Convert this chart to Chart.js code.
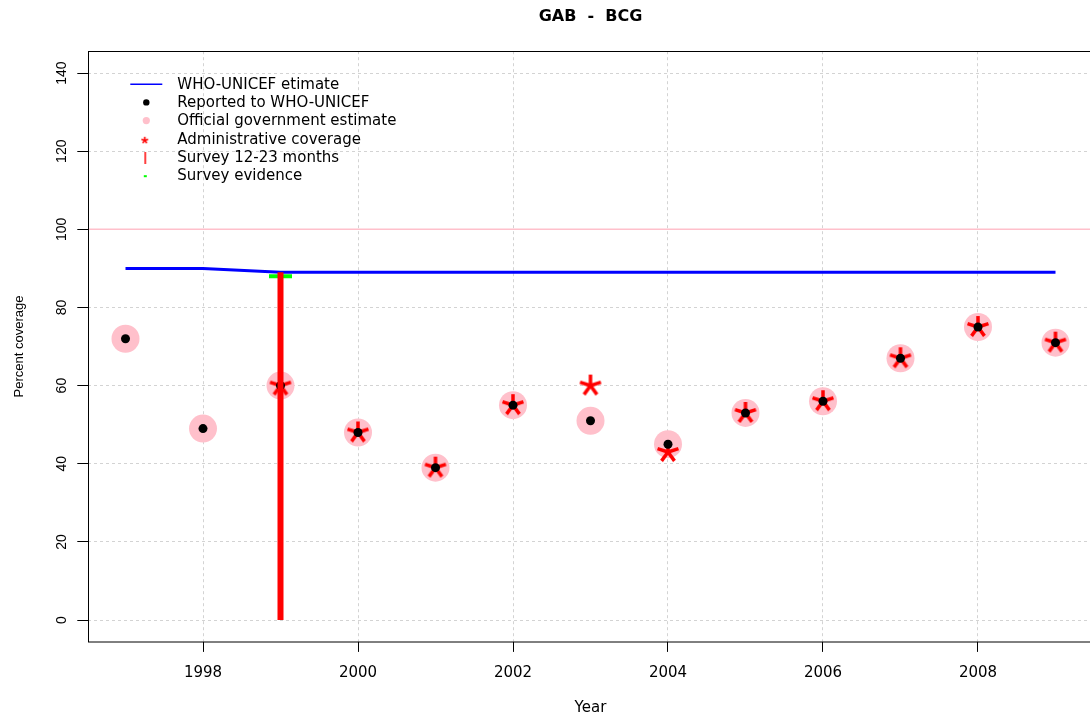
<!DOCTYPE html>
<html>
<head>
<meta charset="utf-8">
<title>GAB - BCG</title>
<script src="https://cdn.jsdelivr.net/npm/chart.js@4/dist/chart.umd.min.js"></script>
<style>
  html, body { margin: 0; padding: 0; overflow: hidden; background: #fff; }
  #chart-bcg { display: block; }
</style>
</head>
<body>
<canvas id="chart-bcg" width="1100" height="717"></canvas>
<script>
const years = [1997, 1998, 1999, 2000, 2001, 2002, 2003, 2004, 2005, 2006, 2007, 2008, 2009]
const whoUnicef = [90, 90, 89, 89, 89, 89, 89, 89, 89, 89, 89, 89, 89]
const reported = [72, 49, 60, 48, 39, 55, 51, 45, 53, 56, 67, 75, 71]
const official = [72, 49, 60, 48, 39, 55, 51, 45, 53, 56, 67, 75, 71]
const admin = [null, null, 60, 48, 39, 55, 60, 43, 53, 56, 67, 75, 71]
const surveyYears = [1999]
const survey1223 = [89]
const surveyEvidence = [88]
const targetLevel = 100
const xTicks = [1998, 2000, 2002, 2004, 2006, 2008]
const yTicks = [0, 20, 40, 60, 80, 100, 120, 140]
const legendLabels = ['WHO-UNICEF etimate', 'Reported to WHO-UNICEF', 'Official government estimate',
    'Administrative coverage', 'Survey 12-23 months', 'Survey evidence']

// R style axis range: 4% extra on each side
const xSpan = years[years.length - 1] - years[0]
const xMin = years[0] - 0.04 * xSpan
const xMax = years[years.length - 1] + 0.04 * xSpan
const ySpan = yTicks[yTicks.length - 1] - yTicks[0]
const yMin = yTicks[0] - 0.04 * ySpan
const yMax = yTicks[yTicks.length - 1] + 0.04 * ySpan

const pairs = vals => years.map((a, i) => ({ x: a, y: vals[i] }))

// little 5 arm asterisk, like pch="*"
function makeAsterisk(size, width) {
    const c = document.createElement('canvas')
    c.width = size
    c.height = size
    const g = c.getContext('2d')
    g.strokeStyle = '#ff0000'
    g.lineWidth = width
    g.translate(size / 2, size / 2)
    const r = size / 2 - 1
    for (let k = 0; k < 5; k++) {
        const ang = -Math.PI / 2 + k * 2 * Math.PI / 5
        g.beginPath()
        g.moveTo(0, 0)
        g.lineTo(r * Math.cos(ang), r * Math.sin(ang))
        g.stroke()
    }
    return c
}
const asterisk = makeAsterisk(24, 3.5)
const asteriskSmall = makeAsterisk(9, 1.6)

const boxPlugin = {
    id: 'box',
    afterDraw(chart) {
        const { ctx, chartArea } = chart
        ctx.save()
        ctx.strokeStyle = '#000'
        ctx.lineWidth = 1
        const l = Math.round(chartArea.left) + 0.5
        const t = Math.round(chartArea.top) + 0.5
        ctx.strokeRect(l, t, Math.round(chartArea.right) - l, Math.round(chartArea.bottom) - t)
        ctx.restore()
    }
}

const legendPlugin = {
    id: 'legendInside',
    afterDraw(chart) {
        const { ctx, chartArea } = chart
        const sx = chartArea.left + 57
        const tx = chartArea.left + 89
        const y0 = chartArea.top + 34
        const dy = 18.2
        ctx.save()
        // symbols
        ctx.strokeStyle = '#0000ff'
        ctx.lineWidth = 1.5
        ctx.beginPath()
        ctx.moveTo(sx - 15, y0 - 1)
        ctx.lineTo(sx + 17, y0 - 1)
        ctx.stroke()
        ctx.fillStyle = '#000'
        ctx.beginPath()
        ctx.arc(sx + 1, y0 + dy - 1, 3.2, 0, Math.PI * 2)
        ctx.fill()
        ctx.fillStyle = '#ffc0cb'
        ctx.beginPath()
        ctx.arc(sx + 1, y0 + 2 * dy - 1, 3.6, 0, Math.PI * 2)
        ctx.fill()
        ctx.drawImage(asteriskSmall, sx - 5, y0 + 3 * dy - 4)
        ctx.strokeStyle = '#ff4040'
        ctx.lineWidth = 2
        ctx.beginPath()
        ctx.moveTo(sx, y0 + 4 * dy - 6)
        ctx.lineTo(sx, y0 + 4 * dy + 6)
        ctx.stroke()
        ctx.strokeStyle = '#00ff00'
        ctx.beginPath()
        ctx.moveTo(sx - 1.5, y0 + 5 * dy)
        ctx.lineTo(sx + 1.5, y0 + 5 * dy)
        ctx.stroke()
        // texts
        ctx.fillStyle = '#000'
        ctx.font = '15px "DejaVu Sans"'
        ctx.textBaseline = 'middle'
        ctx.textAlign = 'left'
        legendLabels.forEach((txt, i) => ctx.fillText(txt, tx, y0 + i * dy))
        ctx.restore()
    }
}

new Chart(document.getElementById('chart-bcg'), {
    type: 'scatter',
    data: {
        datasets: [
            {
                label: 'target',
                data: [{ x: xMin, y: targetLevel }, { x: xMax, y: targetLevel }],
                showLine: true,
                borderColor: '#ffc0cb',
                borderWidth: 1.5,
                pointRadius: 0,
                order: 10
            },
            {
                label: legendLabels[0],
                data: pairs(whoUnicef),
                showLine: true,
                borderColor: '#0000ff',
                borderWidth: 3,
                pointRadius: 0,
                order: 9
            },
            {
                label: legendLabels[2],
                data: pairs(official),
                backgroundColor: '#ffc0cb',
                borderWidth: 0,
                pointRadius: 14,
                order: 8
            },
            {
                label: legendLabels[3],
                data: pairs(admin),
                pointStyle: asterisk,
                order: 7
            },
            {
                label: legendLabels[1],
                data: pairs(reported),
                backgroundColor: '#000',
                borderWidth: 0,
                pointRadius: 4.5,
                order: 6
            },
            {
                label: legendLabels[5],
                data: surveyYears.map((a, i) => ({ x: a, y: surveyEvidence[i] })),
                pointStyle: 'line',
                pointRadius: 11.5,
                borderColor: '#00ff00',
                borderWidth: 4,
                order: 5
            },
            {
                label: legendLabels[4],
                data: surveyYears.flatMap((a, i) => [{ x: a, y: 0 }, { x: a, y: survey1223[i] }, { x: a, y: null }]),
                showLine: true,
                spanGaps: false,
                borderColor: '#ff0000',
                borderWidth: 6,
                pointRadius: 0,
                order: 4
            }
        ]
    },
    options: {
        responsive: false,
        animation: false,
        events: [],
        devicePixelRatio: 1,
        layout: { autoPadding: false, padding: { left: 0, right: 1100 - 1092.7, top: 0, bottom: 0 } },
        plugins: {
            legend: { display: false },
            tooltip: { enabled: false },
            title: {
                display: true,
                fullSize: false,
                text: 'GAB  -  BCG',
                color: '#000',
                font: { family: '"DejaVu Sans"', size: 16, weight: 'bold' },
                padding: { top: 7, bottom: 25 }
            }
        },
        scales: {
            x: {
                type: 'linear',
                min: xMin,
                max: xMax,
                afterBuildTicks: scale => { scale.ticks = xTicks.map(v => ({ value: v })) },
                afterFit: scale => {
                    scale.height = 75.1
                    scale.paddingLeft = 0
                    scale.paddingRight = 0
                },
                grid: { color: '#d3d3d3', tickColor: '#000', tickLength: 10, tickWidth: 1 },
                border: { display: false, dash: [3, 3] },
                ticks: {
                    color: '#000',
                    padding: 12,
                    maxRotation: 0,
                    autoSkip: false,
                    font: { family: '"DejaVu Sans"', size: 15 },
                    callback: v => String(v)
                },
                title: {
                    display: true,
                    text: 'Year',
                    color: '#000',
                    font: { family: '"DejaVu Sans"', size: 15 },
                    padding: { top: 0, bottom: 0 }
                }
            },
            y: {
                min: yMin,
                max: yMax,
                afterBuildTicks: scale => { scale.ticks = yTicks.map(v => ({ value: v })) },
                afterFit: scale => {
                    scale.width = 88.3
                    scale.paddingTop = 0
                    scale.paddingBottom = 0
                },
                grid: { color: '#d3d3d3', tickColor: '#000', tickLength: 11, tickWidth: 1 },
                border: { display: false, dash: [3, 3] },
                ticks: {
                    color: '#000',
                    padding: 3,
                    minRotation: 90,
                    maxRotation: 90,
                    crossAlign: 'center',
                    autoSkip: false,
                    font: { family: '"Liberation Sans"', size: 14 }
                },
                title: {
                    display: true,
                    text: 'Percent coverage',
                    color: '#000',
                    font: { family: '"Liberation Sans"', size: 13 },
                    padding: { top: 12, bottom: 0 }
                }
            }
        }
    },
    plugins: [boxPlugin, legendPlugin]
});
</script>
</body>
</html>
